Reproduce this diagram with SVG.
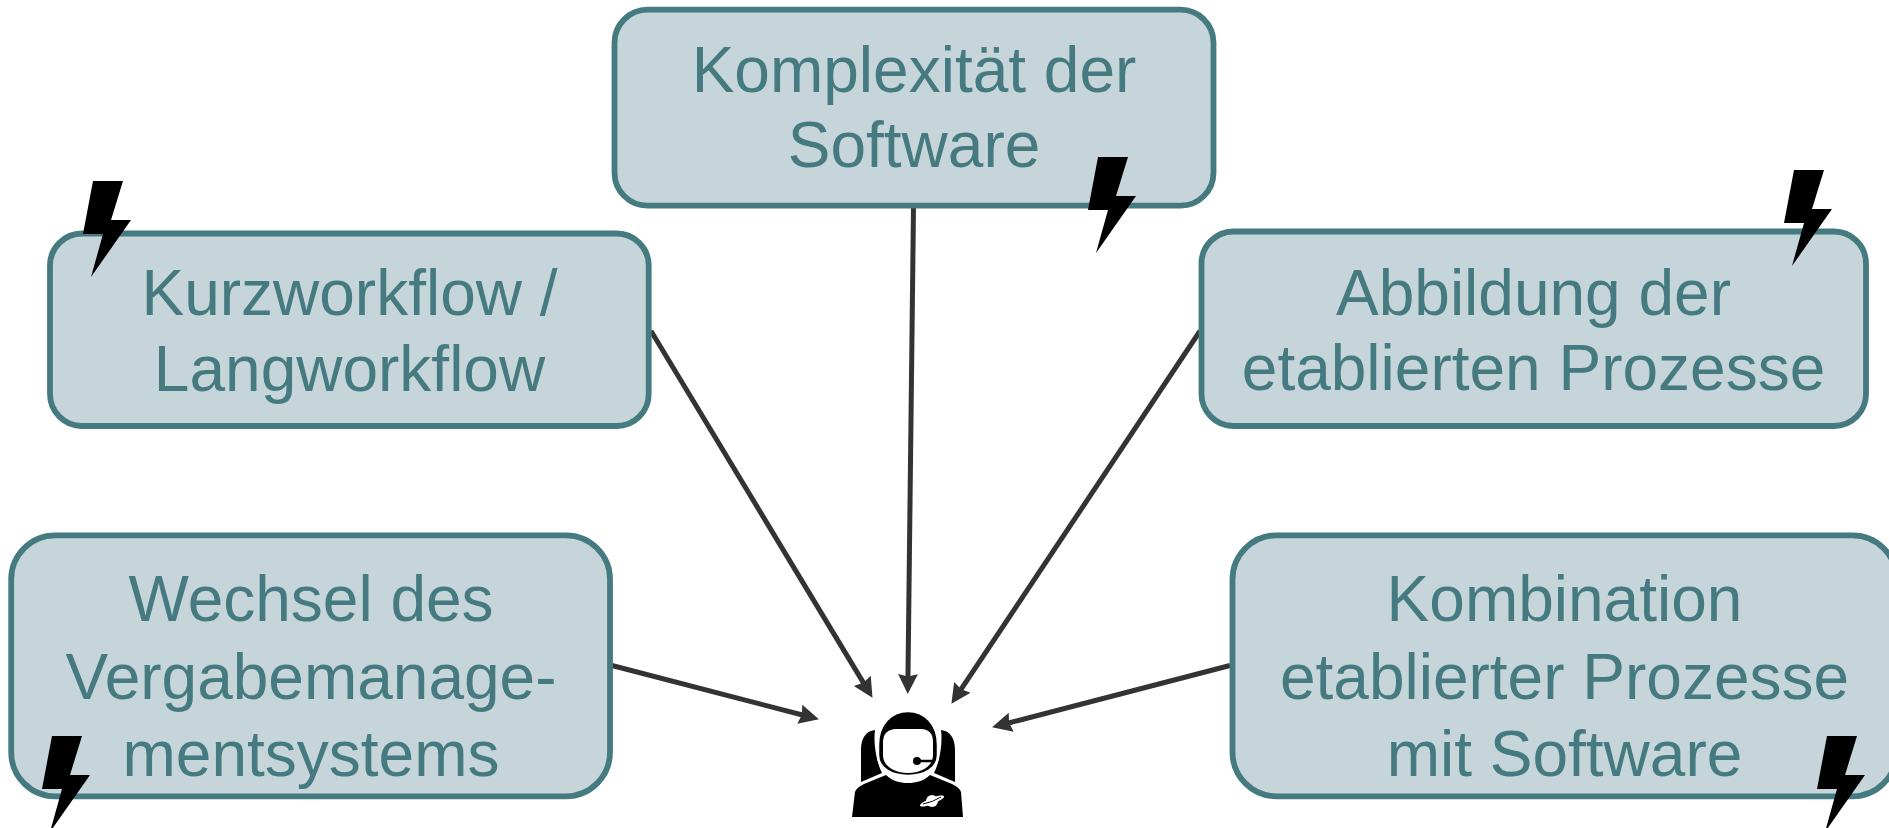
<svg xmlns="http://www.w3.org/2000/svg" width="1889" height="828" viewBox="0 0 1889 828">
<style>
.box{fill:#c6d5d9;stroke:#457b80;stroke-width:5.8}
.t{font-family:"Liberation Sans",Arial,sans-serif;font-size:64px;fill:#457b80;text-anchor:middle}
.c{fill:none;stroke:#333;stroke-width:5;marker-end:url(#arrow)}
</style>
<defs>
<marker id="arrow" markerUnits="userSpaceOnUse" markerWidth="22" markerHeight="22" refX="8" refY="10" orient="auto" viewBox="0 0 20 20"><path d="M0,1 L18,10 L0,19 L2,10 Z" fill="#333"/></marker>
<path id="bolt" d="M10,0 L40,0 L28,39 L48,39 L8,96 L20,53 L0,53 Z" fill="#000"/>
</defs>
<rect width="1889" height="828" fill="#fff"/>
<g id="connectors">
<line class="c" x1="651" y1="331" x2="866.8" y2="688.4"/>
<line class="c" x1="913.5" y1="207" x2="907.9" y2="683"/>
<line class="c" x1="1200" y1="331" x2="957.5" y2="694.7"/>
<line class="c" x1="612" y1="665.5" x2="808.3" y2="716.5"/>
<line class="c" x1="1230" y1="665.5" x2="1002.7" y2="724.5"/>
</g>
<g id="node-komplexitaet"><rect class="box" x="614.5" y="9.7" width="599" height="196" rx="33"/><text class="t" x="914" y="91.5">Komplexität der</text><text class="t" x="914" y="167">Software</text></g>
<g id="node-kurzworkflow"><rect class="box" x="50" y="233.5" width="598.7" height="192.5" rx="32"/><text class="t" x="349.5" y="314.5">Kurzworkflow /</text><text class="t" x="349.5" y="390.5">Langworkflow</text></g>
<g id="node-abbildung"><rect class="box" x="1201.5" y="231.5" width="664.5" height="194.5" rx="32"/><text class="t" x="1533.5" y="314.5">Abbildung der</text><text class="t" x="1533.5" y="390">etablierten Prozesse</text></g>
<g id="node-wechsel"><rect class="box" x="11.2" y="535.3" width="598.8" height="261" rx="44"/><text class="t" x="311" y="621">Wechsel des</text><text class="t" x="311" y="699">Vergabemanage-</text><text class="t" x="311" y="775.5">mentsystems</text></g>
<g id="node-kombination"><rect class="box" x="1232.5" y="535.3" width="664" height="261" rx="44"/><text class="t" x="1564.5" y="621">Kombination</text><text class="t" x="1564.5" y="699">etablierter Prozesse</text><text class="t" x="1564.5" y="775.5">mit Software</text></g>
<g id="bolts">
<use href="#bolt" x="1088" y="157"/>
<use href="#bolt" x="83" y="181"/>
<use href="#bolt" x="1784" y="170"/>
<use href="#bolt" x="42" y="736"/>
<use href="#bolt" x="1817" y="736"/>
</g>
<g id="node-astronaut">
<path d="M875,730 C866,731 861,738 861,750 L861,782 L882,773 C877,763 873,745 875,730 Z" fill="#000"/>
<path d="M941,730 C950,731 955,738 955,750 L955,782 L934,773 C939,763 943,745 941,730 Z" fill="#000"/>
<path d="M852,817 L855,792 Q857,787 864,784 L886,775 C892,781 900,783 908,783 C916,783 924,781 930,775 L952,784 Q959,787 961,792 L963,817 Z" fill="#000"/>
<path d="M908,711 C925,711 938,724 938,745 L938,755 C938,768 925,776 908,776 C891,776 878,768 878,755 L878,745 C878,724 891,711 908,711 Z" fill="#000" stroke="#fff" stroke-width="2.5"/>
<path d="M896,729 L921,729 C929,729 933,734 933,742 L933,755 C933,766 922,773 908,773 C894,773 883,766 883,755 L883,742 C883,734 888,729 896,729 Z" fill="#fff"/>
<path d="M917,761 L933,761" stroke="#000" stroke-width="2.5" fill="none"/>
<circle cx="917" cy="761" r="4" fill="#000"/>
<ellipse cx="932" cy="801" rx="13" ry="3" transform="rotate(-22 932 801)" fill="#fff"/>
<circle cx="932" cy="801" r="6" fill="#fff"/>
<path d="M923,804 Q933,802 941,797" stroke="#000" stroke-width="1" fill="none"/>
</g>
</svg>
